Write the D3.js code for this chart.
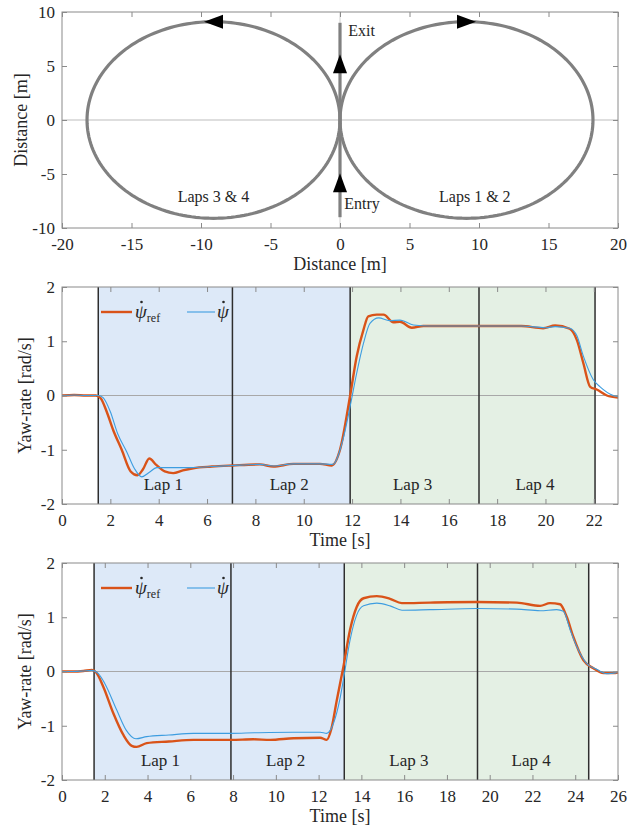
<!DOCTYPE html>
<html>
<head>
<meta charset="utf-8">
<script src="https://cdn.jsdelivr.net/npm/d3@7"></script>
<style>
  body { margin: 0; background: #fff; }
  text { font-family: "Liberation Serif", "DejaVu Serif", serif; fill: #262626; }
</style>
</head>
<body>
<div id="chart"></div>
<script>
// ---- data ----
const trackCircles = [
  { cx: 9.1, cy: 0, r: 9.1 },
  { cx: -9.1, cy: 0, r: 9.1 }
];
const trackLabels = [
  { x: -9.1, y: -7.6, text: "Laps 3 & 4" },
  { x: 9.7, y: -7.6, text: "Laps 1 & 2" },
  { x: 0.6, y: 7.8, text: "Exit", anchor: "start" },
  { x: 0.3, y: -8.2, text: "Entry", anchor: "start" }
];
const distTicks = [-20, -15, -10, -5, 0, 5, 10, 15, 20];
const distYTicks = [-10, -5, 0, 5, 10];

const lapNames = ["Lap 1", "Lap 2", "Lap 3", "Lap 4"];
const yawTicks = [-2, -1, 0, 1, 2];

// run 1
const t1Ref = [0, 0.5, 1.0, 1.4, 1.6, 1.85, 2.12, 2.47, 2.84, 3.12, 3.35, 3.61, 3.9, 4.25, 4.6, 5.0, 5.43, 6.2, 7.05, 8.19, 8.74, 9.57, 10.67, 11.16, 11.5, 11.92, 12.19, 12.47, 12.67, 13.02, 13.3, 13.71, 13.98, 14.47, 14.95, 16, 17, 18, 19, 19.9, 20.4, 21.0, 21.3, 21.57, 21.85, 22.12, 22.54, 23];
const y1Ref = [0, 0.01, 0, 0.0, -0.05, -0.3, -0.64, -1.0, -1.4, -1.47, -1.36, -1.16, -1.28, -1.4, -1.43, -1.38, -1.34, -1.31, -1.29, -1.27, -1.31, -1.26, -1.26, -1.29, -1.0, 0.0, 0.72, 1.21, 1.46, 1.49, 1.49, 1.35, 1.36, 1.25, 1.28, 1.28, 1.28, 1.28, 1.28, 1.24, 1.29, 1.23, 1.02, 0.59, 0.16, 0.11, 0.0, -0.04];
const t1Act = [0, 0.5, 1.0, 1.5, 1.7, 2.0, 2.3, 2.68, 3.0, 3.3, 3.6, 3.92, 4.5, 5.2, 6.2, 7.05, 8.19, 8.74, 9.57, 10.67, 11.2, 11.64, 11.92, 12.19, 12.47, 12.74, 13.1, 13.55, 13.98, 14.54, 15.2, 16, 17, 18, 19, 20.0, 20.4, 21.0, 21.3, 21.57, 21.98, 22.26, 22.81, 23];
const y1Act = [0, 0.01, 0, 0, -0.04, -0.3, -0.7, -1.04, -1.35, -1.5, -1.42, -1.33, -1.33, -1.33, -1.31, -1.29, -1.27, -1.3, -1.26, -1.26, -1.27, -0.78, -0.2, 0.41, 0.96, 1.33, 1.43, 1.38, 1.39, 1.3, 1.28, 1.28, 1.28, 1.28, 1.28, 1.25, 1.27, 1.24, 1.1, 0.72, 0.29, 0.16, 0.0, -0.02];
const lapBounds1 = [1.5, 7.05, 11.92, 17.25, 22.05];

// run 2
const t2Ref = [0, 0.5, 1.0, 1.4, 1.6, 1.93, 2.4, 2.87, 3.26, 3.49, 3.96, 5.0, 6.14, 7.9, 8.95, 9.73, 10.82, 12.07, 12.38, 12.6, 12.85, 13.16, 13.47, 13.78, 14.1, 14.72, 15.34, 15.89, 17.21, 19.4, 21.27, 22.36, 22.82, 23.29, 23.6, 23.91, 24.38, 24.85, 25.32, 25.78, 26];
const y2Ref = [0, 0, 0.01, 0.03, -0.02, -0.28, -0.77, -1.17, -1.37, -1.39, -1.32, -1.29, -1.26, -1.26, -1.25, -1.26, -1.23, -1.22, -1.26, -1.05, -0.53, 0.09, 0.77, 1.19, 1.35, 1.39, 1.34, 1.26, 1.27, 1.28, 1.27, 1.21, 1.26, 1.24, 1.01, 0.64, 0.21, 0.06, -0.03, -0.03, -0.02];
const t2Act = [0, 0.5, 1.0, 1.4, 1.7, 2.0, 2.56, 3.0, 3.46, 3.96, 5.0, 6.14, 7.9, 9.0, 10.8, 12.07, 12.38, 12.7, 13.0, 13.16, 13.47, 13.78, 14.1, 14.72, 15.34, 15.9, 17.21, 19.4, 21.27, 22.36, 23.13, 23.45, 23.76, 24.07, 24.53, 25.0, 25.47, 25.94];
const y2Act = [0, 0, 0.01, 0.02, -0.04, -0.22, -0.71, -1.08, -1.24, -1.2, -1.17, -1.14, -1.14, -1.13, -1.12, -1.12, -1.14, -0.95, -0.5, -0.15, 0.58, 1.04, 1.21, 1.26, 1.21, 1.13, 1.14, 1.16, 1.15, 1.12, 1.14, 1.11, 0.77, 0.46, 0.15, 0.04, -0.04, -0.02];
const lapBounds2 = [1.5, 7.9, 13.2, 19.43, 24.63];

// ---- layout ----
const W = 642, H = 827;
const L = 62, R = 618;
const svg = d3.select("#chart").append("svg").attr("width", W).attr("height", H);

const orange = "#d95319", blue = "#3d9de0", grey = "#808080";
const serif = "'Liberation Serif', 'DejaVu Serif', serif";

function axesBox(g, x, y, xt, yt, xlab, ylab, yLabX) {
  const [x0, x1] = x.range();
  const [y0, y1] = y.range();
  const tl = 5;
  // ticks on all four sides, pointing in (matlab box on)
  const bt = g.append("g").attr("transform", `translate(0,${y0})`)
    .call(d3.axisBottom(x).tickValues(xt).tickSize(-tl).tickPadding(10).tickFormat(d => String(d)));
  const tp = g.append("g").attr("transform", `translate(0,${y1})`)
    .call(d3.axisTop(x).tickValues(xt).tickSize(-tl).tickFormat(""));
  const lf = g.append("g").attr("transform", `translate(${x0},0)`)
    .call(d3.axisLeft(y).tickValues(yt).tickSize(-tl).tickPadding(7).tickFormat(d => String(d)));
  const rt = g.append("g").attr("transform", `translate(${x1},0)`)
    .call(d3.axisRight(y).tickValues(yt).tickSize(-tl).tickFormat(""));
  [bt, tp, lf, rt].forEach(a => {
    a.attr("font-family", serif).attr("font-size", 17);
    a.select(".domain").remove();
    a.selectAll(".tick line").attr("stroke", "#8a8a8a");
    a.selectAll("text").attr("fill", "#262626");
  });
  g.append("rect").attr("x", x0).attr("y", y1).attr("width", x1 - x0).attr("height", y0 - y1)
    .attr("fill", "none").attr("stroke", "#8a8a8a").attr("stroke-width", 1);
  g.append("text").attr("x", (x0 + x1) / 2).attr("y", y0 + 42).attr("text-anchor", "middle")
    .style("font-size", "18px").text(xlab);
  g.append("text").attr("transform", `translate(${yLabX},${(y0 + y1) / 2}) rotate(-90)`)
    .attr("text-anchor", "middle").style("font-size", "18px").text(ylab);
}

// ---- top: track ----
{
  const g = svg.append("g");
  const x = d3.scaleLinear().domain([-20, 20]).range([L, R]);
  const y = d3.scaleLinear().domain([-10, 10]).range([228, 12]);
  g.append("line").attr("x1", x(-20)).attr("x2", x(20)).attr("y1", y(0)).attr("y2", y(0))
    .attr("stroke", "#bdbdbd").attr("stroke-width", 1.2);
  g.append("line").attr("x1", x(0)).attr("x2", x(0)).attr("y1", y(-10)).attr("y2", y(10))
    .attr("stroke", "#d0d0d0").attr("stroke-width", 1);
  const circ = d3.line().x(d => x(d[0])).y(d => y(d[1]));
  trackCircles.forEach(c => {
    const pts = d3.range(0, 361, 2).map(a => [c.cx + c.r * Math.cos(a * Math.PI / 180), c.cy + c.r * Math.sin(a * Math.PI / 180)]);
    g.append("path").attr("d", circ(pts)).attr("fill", "none").attr("stroke", grey).attr("stroke-width", 3.2);
  });
  g.append("line").attr("x1", x(0)).attr("x2", x(0)).attr("y1", y(-9)).attr("y2", y(9))
    .attr("stroke", grey).attr("stroke-width", 3.2);
  // arrow heads
  const tri = (cx, cy, dir) => {
    const s = 7, l = 19;
    let p;
    if (dir === "up") p = [[cx, cy - l / 2], [cx - s, cy + l / 2], [cx + s, cy + l / 2]];
    if (dir === "right") p = [[cx + l / 2, cy], [cx - l / 2, cy - s], [cx - l / 2, cy + s]];
    if (dir === "left") p = [[cx - l / 2, cy], [cx + l / 2, cy - s], [cx + l / 2, cy + s]];
    g.append("path").attr("d", "M" + p.map(q => q.join(",")).join("L") + "Z").attr("fill", "#000");
  };
  tri(x(0), y(5.2), "up");
  tri(x(0), y(-5.8), "up");
  tri(x(9.1), y(9.1), "right");
  tri(x(-9.1), y(9.1), "left");
  trackLabels.forEach(d => {
    g.append("text").attr("x", x(d.x)).attr("y", y(d.y)).attr("text-anchor", d.anchor || "middle")
      .style("font-size", "16px").text(d.text);
  });
  axesBox(g, x, y, distTicks, distYTicks, "Distance [m]", "Distance [m]", 27);
}

// psi-dot symbol, dot drawn by hand
function psiDot(g, px, py, sub) {
  const t = g.append("text").attr("x", px).attr("y", py).style("font-size", "19px");
  t.append("tspan").style("font-style", "italic").text("\u03C8");
  if (sub) t.append("tspan").attr("dy", 4).style("font-size", "12px").text(sub);
  g.append("circle").attr("cx", px + 6.5).attr("cy", py - 16).attr("r", 1.3).attr("fill", "#262626");
}

// ---- yaw-rate panels ----
function yawPanel(top, tMax, xt, tr, yr, ta, ya, bounds) {
  const g = svg.append("g");
  const x = d3.scaleLinear().domain([0, tMax]).range([L, R]);
  const y = d3.scaleLinear().domain([-2, 2]).range([top + 217, top]);
  g.append("rect").attr("x", x(bounds[0])).attr("width", x(bounds[2]) - x(bounds[0]))
    .attr("y", y(2)).attr("height", y(-2) - y(2)).attr("fill", "#dde9f8");
  g.append("rect").attr("x", x(bounds[2])).attr("width", x(bounds[4]) - x(bounds[2]))
    .attr("y", y(2)).attr("height", y(-2) - y(2)).attr("fill", "#e4f0e4");
  g.append("line").attr("x1", x(0)).attr("x2", x(tMax)).attr("y1", y(0)).attr("y2", y(0))
    .attr("stroke", "#a8a8a8").attr("stroke-width", 1.2);
  bounds.forEach(b => {
    g.append("line").attr("x1", x(b)).attr("x2", x(b)).attr("y1", y(2)).attr("y2", y(-2))
      .attr("stroke", "#2e2e2e").attr("stroke-width", 1.5);
  });
  lapNames.forEach((n, i) => {
    g.append("text").attr("x", (x(bounds[i]) + x(bounds[i + 1])) / 2 - 2).attr("y", y(-1.74))
      .attr("text-anchor", "middle").style("font-size", "17px").text(n);
  });
  const line = d3.line().x(d => x(d[0])).y(d => y(d[1])).curve(d3.curveMonotoneX);
  g.append("path").attr("d", line(d3.zip(tr, yr))).attr("fill", "none")
    .attr("stroke", orange).attr("stroke-width", 2.4);
  g.append("path").attr("d", line(d3.zip(ta, ya))).attr("fill", "none")
    .attr("stroke", blue).attr("stroke-width", 1.1);
  // legend
  const ly = top + 25;
  g.append("line").attr("x1", 101).attr("x2", 132).attr("y1", ly).attr("y2", ly)
    .attr("stroke", orange).attr("stroke-width", 2.4);
  psiDot(g, 135, ly + 6, "ref");
  g.append("line").attr("x1", 187).attr("x2", 215).attr("y1", ly).attr("y2", ly)
    .attr("stroke", blue).attr("stroke-width", 1.1);
  psiDot(g, 217, ly + 6, null);
  axesBox(g, x, y, xt, yawTicks, "Time [s]", "Yaw-rate [rad/s]", 31);
}

yawPanel(287, 23, d3.range(0, 23, 2), t1Ref, y1Ref, t1Act, y1Act, lapBounds1);
yawPanel(563, 26, d3.range(0, 27, 2), t2Ref, y2Ref, t2Act, y2Act, lapBounds2);
</script>
</body>
</html>
